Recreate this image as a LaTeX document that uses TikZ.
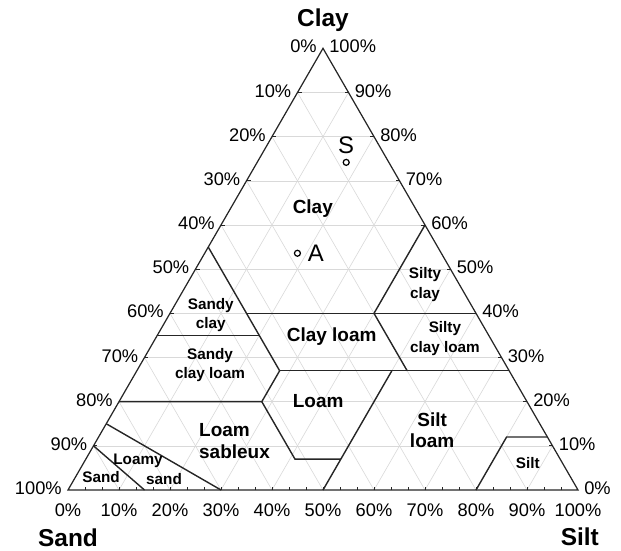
\documentclass[tikz,border=0pt]{standalone}
\usepackage{fontspec}
\setmainfont{Liberation Sans}
\usetikzlibrary{positioning}

\begin{document}
\begin{tikzpicture}[x={(10.2cm,0cm)}, y={(5.1cm,8.8335cm)},
	grd/.style={gray!30, line width=0.35pt},
	bnd/.style={black!85, line width=0.8pt},
	pct/.style={font=\fontsize{10.4}{12}\selectfont, inner sep=0pt},
	big/.style={font=\fontsize{10.8}{12}\selectfont\bfseries, align=center, inner sep=0pt},
	small/.style={font=\fontsize{8.7}{11.3}\selectfont\bfseries, align=center, inner sep=0pt},
	ttl/.style={font=\fontsize{13.9}{16}\selectfont\bfseries, inner sep=0pt},
	pt/.style={font=\fontsize{13.6}{16}\selectfont, inner sep=0pt},
	mk/.style={circle, draw, line width=0.7pt, inner sep=0pt, minimum size=3.4pt}]
	\useasboundingbox (-1.36cm,-1.2cm) rectangle (11.06cm,9.8cm);

	\coordinate (sand) at (0,0);
	\coordinate (silt) at (1,0);
	\coordinate (clay) at (0,1);

	% grid
	\foreach \i in {1,...,9} {
		\draw[grd] (0,\i/10) -- ({1-\i/10},\i/10);
		\draw[grd] (\i/10,0) -- (\i/10,{1-\i/10});
		\draw[grd] (\i/10,0) -- (0,\i/10);
	}

	% triangle and ticks
	\draw[black!85, line width=0.7pt] (sand) -- (silt) -- (clay) -- cycle;
	\foreach \i in {1,...,29}
		\draw[black!85, line width=0.4pt] (\i/30,0) -- ++(0cm,0.06cm);
	\foreach \i in {1,...,9} {
		\draw[black!85, line width=0.4pt] (0,\i/10) -- ++(0.08cm,0cm);
		\draw[black!85, line width=0.4pt] ({1-\i/10},\i/10) -- ++(-0.08cm,0cm);
	}

	% classes
	\draw[bnd] (0,0.55) -- (0.28,0.27);
	\draw[bnd] (0,0.35) -- (0.2,0.35);
	\draw[bnd] (0.15,0.4) -- (0.6,0.4);
	\draw[bnd] (0.4,0.4) -- (0.4,0.6);
	\draw[bnd] (0.4,0.4) -- (0.53,0.27);
	\draw[bnd] (0.28,0.27) -- (0.73,0.27);
	\draw[bnd] (0,0.2) -- (0.28,0.2) -- (0.28,0.27);
	\draw[bnd] (0.28,0.2) -- (0.41,0.07) -- (0.5,0.07);
	\draw[bnd] (0.5,0) -- (0.5,0.27);
	\draw[bnd] (0.8,0) -- (0.8,0.12) -- (0.88,0.12);
	\draw[bnd] (0,0.1) -- (0.15,0);
	\draw[bnd] (0,0.15) -- (0.3,0);

	% axis labels
	\foreach \k [evaluate=\k as \p using int(\k*10)] in {0,...,10} {
		\node[pct, anchor=east, xshift=-3.4pt, yshift=1pt] (l\k) at (0,{1-\k/10}) {\p\%};
		\node[pct, anchor=west, xshift=3.4pt, yshift=1pt] (r\k) at ({1-\k/10},\k/10) {\p\%};
		\node[pct, yshift=-11.3pt] (b\k) at (\k/10,0) {\p\%};
	}
	\node[ttl, yshift=15.9pt] (tcl) at (clay) {Clay};
	\node[ttl, yshift=-27.3pt] (tsa) at (sand) {Sand};
	\node[ttl, yshift=-26.8pt, xshift=1pt] (tsi) at (silt) {Silt};

	% class names
	\node[big] (cl) at (0.161,0.638) {Clay};
	\node[small] (sc) at (0.082,0.396) {Sandy\\clay};
	\node[big] (cll) at (0.343,0.348) {Clay loam};
	\node[small] (sic) at (0.467,0.466) {Silty\\clay};
	\node[small] (sicl) at (0.568,0.342) {Silty\\clay loam};
	\node[small] (scl) at (0.137,0.283) {Sandy\\clay loam};
	\node[big] (lo) at (0.39,0.201) {Loam};
	\node[big, anchor=west, align=left, font=\fontsize{10.8}{12.5}\selectfont\bfseries] (sl) at (0.201,0.111) {Loam\\sableux};
	\node[small, anchor=west, align=left] (ls) at (0.0645,0.0475) {Loamy\\\hspace*{18.7pt}sand};
	\node[small] (sa) at (0.05,0.0294) {Sand};
	\node[big] (sil) at (0.646,0.136) {Silt\\loam};
	\node[small] (si) at (0.871,0.061) {Silt};

	% samples
	\node[pt] (S) at (0.155,0.781) {S};
	\node[mk, below=2.8pt of S] (s0) {};
	\node[pt] (A) at (0.218,0.536) {A};
	\node[mk, left=3.7pt of A] (a0) {};
\end{tikzpicture}
\end{document}
